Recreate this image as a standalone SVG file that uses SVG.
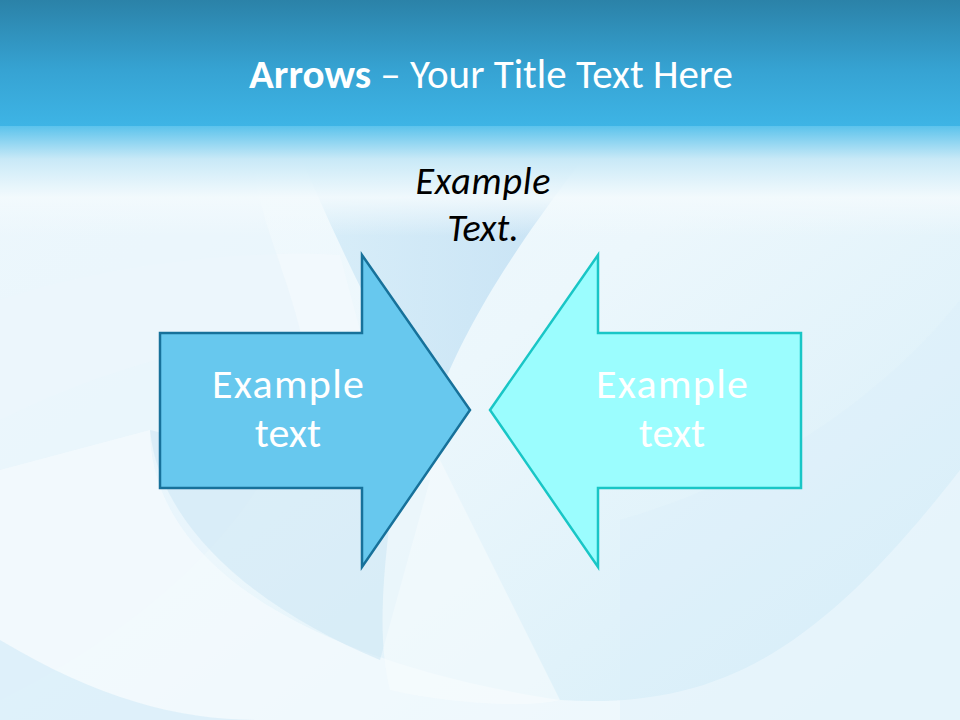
<svg xmlns="http://www.w3.org/2000/svg" width="960" height="720" viewBox="0 0 960 720">
<defs>
<linearGradient id="hdr" x1="0" y1="0" x2="0" y2="1">
<stop offset="0" stop-color="#2b82a8"/>
<stop offset="0.55" stop-color="#36a3d3"/>
<stop offset="1" stop-color="#3eb5e6"/>
</linearGradient>
<linearGradient id="fade" x1="0" y1="0" x2="0" y2="1">
<stop offset="0" stop-color="#5cc3ec"/>
<stop offset="0.3" stop-color="#c8e9f7"/>
<stop offset="0.65" stop-color="#f3fafd" stop-opacity="0.9"/>
<stop offset="1" stop-color="#f3fafd" stop-opacity="0"/>
</linearGradient>
<linearGradient id="bg" x1="0" y1="0" x2="1" y2="1">
<stop offset="0" stop-color="#f5fbfe"/>
<stop offset="0.5" stop-color="#ecf7fc"/>
<stop offset="1" stop-color="#d4edf8"/>
</linearGradient>
<linearGradient id="sw1" x1="0" y1="0" x2="1" y2="0">
<stop offset="0" stop-color="#d4ecf8"/>
<stop offset="1" stop-color="#bcdcf2"/>
</linearGradient>
<style>
.title{font-family:Calibri,Carlito,"Open Sans","Liberation Sans",sans-serif;fill:#ffffff;font-size:41px}
.sub{font-family:Calibri,Carlito,"Open Sans","Liberation Sans",sans-serif;font-style:italic;fill:#000000;font-size:38px;text-anchor:middle}
.lbl{font-family:Calibri,Carlito,"Open Sans","Liberation Sans",sans-serif;fill:#ffffff;font-size:42px;text-anchor:middle}
</style>
</defs>
<g id="background">
<rect x="0" y="0" width="960" height="720" fill="url(#bg)"/>
<path d="M0 300 C120 260 260 250 340 255 L360 330 C250 330 120 360 0 420 Z" fill="#f2f9fd" opacity="0.8"/>
<path d="M0 700 C200 600 320 450 300 330 C280 250 240 180 260 130 L0 130 Z" fill="#e6f4fb" opacity="0.5"/>
<path d="M290 130 C330 230 380 330 430 420 C470 300 560 190 605 130 Z" fill="url(#sw1)" opacity="0.8"/>
<path d="M150 430 C150 560 300 660 560 700 C720 710 820 650 960 470 L960 720 L0 720 L0 470 Z" fill="#f5fbfe" opacity="0.7"/>
<path d="M150 430 C160 530 260 610 380 660 L430 480 C330 470 230 450 150 430 Z" fill="#cfe8f5" opacity="0.6"/>
<path d="M390 520 C380 600 380 650 390 690 C430 700 520 710 560 700 L420 420 Z" fill="#f6fbfe" opacity="0.6"/>
<path d="M0 640 C100 700 180 720 260 720 L0 720 Z" fill="#d5edf8" opacity="0.7"/>
<path d="M620 520 C760 480 880 400 960 300 L960 720 L620 720 Z" fill="#d9eff9" opacity="0.35"/>
</g>
<g id="header">
<rect x="0" y="0" width="960" height="128" fill="url(#hdr)"/>
<rect x="0" y="126" width="960" height="110" fill="url(#fade)"/>
<text x="491" y="88" class="title" text-anchor="middle"><tspan font-weight="bold">Arrows</tspan> – Your Title Text Here</text>
</g>
<g id="caption">
<text x="483" y="194" class="sub" textLength="135" lengthAdjust="spacing">Example</text>
<text x="483" y="241" class="sub">Text.</text>
</g>
<g id="connectors"></g>
<g id="arrow-left">
<polygon points="160,333 362,333 362,255 470,410 362,567 362,488 160,488" fill="#67c8ee" stroke="#17719a" stroke-width="2.5"/>
<text x="288" y="398" class="lbl" textLength="152" lengthAdjust="spacing">Example</text>
<text x="288" y="447" class="lbl">text</text>
</g>
<g id="arrow-right">
<polygon points="801,333 598,333 598,255 490,410 598,567 598,488 801,488" fill="#9bfdfe" stroke="#19c6c6" stroke-width="2.5"/>
<text x="672" y="398" class="lbl" textLength="152" lengthAdjust="spacing">Example</text>
<text x="672" y="447" class="lbl">text</text>
</g>
</svg>
